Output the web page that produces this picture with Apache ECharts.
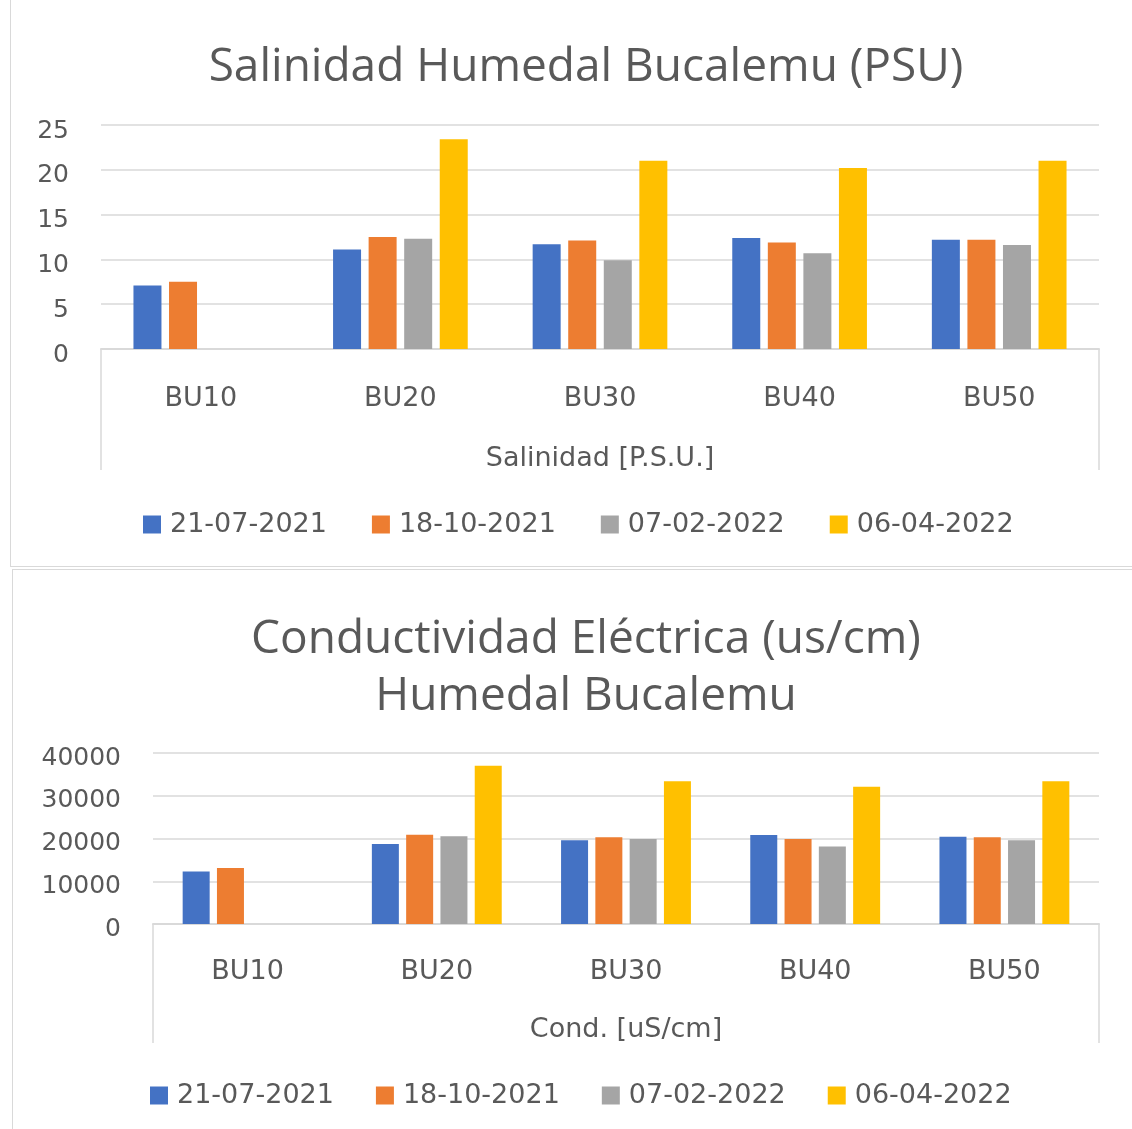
<!DOCTYPE html>
<html>
<head>
<meta charset="utf-8">
<script src="https://cdn.jsdelivr.net/npm/echarts@6/dist/echarts.min.js"></script>
<style>
    body { margin: 0; background: #ffffff; overflow: hidden; }
    .caja { position: absolute; border: 1.5px solid #d9d9d9; }
    .grafico { position: absolute; left: 0; width: 1132px; }
</style>
</head>
<body>
<div class="caja" style="left:10px; top:-3px; width:1140px; height:568px;"></div>
<div class="caja" style="left:12px; top:569px; width:1140px; height:600px;"></div>
<div id="salinidad" class="grafico" style="top:0; height:567px;"></div>
<div id="conductividad" class="grafico" style="top:567px; height:562px;"></div>
<script>
var sitios = ['BU10', 'BU20', 'BU30', 'BU40', 'BU50'];
var fechas = ['21-07-2021', '18-10-2021', '07-02-2022', '06-04-2022'];
var colores = ['#4472C4', '#ED7D31', '#A5A5A5', '#FFC000'];

// Salinidad [P.S.U.]
var sal_21072021 = [7.1, 11.1, 11.7, 12.4, 12.2];
var sal_18102021 = [7.5, 12.5, 12.1, 11.9, 12.2];
var sal_07022022 = [null, 12.3, 9.9, 10.7, 11.6];
var sal_06042022 = [null, 23.4, 21.0, 20.2, 21.0];

// Cond. [uS/cm]
var cond_21072021 = [12300, 18700, 19600, 20800, 20400];
var cond_18102021 = [13100, 20900, 20300, 19900, 20300];
var cond_07022022 = [null, 20500, 19900, 18100, 19600];
var cond_06042022 = [null, 37000, 33400, 32100, 33400];

var fuenteTitulo = '"Open Sans", "Noto Sans", sans-serif';
var fuente = '"DejaVu Sans", sans-serif';
var gris = '#595959';

function armarSeries(listas, ancho) {
    var series = [];
    for (var i = 0; i < listas.length; i++) {
        series.push({
            name: fechas[i],
            type: 'bar',
            data: listas[i],
            barWidth: ancho,
            barGap: '27%'
        });
    }
    return series;
}

// lineas verticales en los extremos del eje de categorias
function lineasExtremos(izq, der, y0, largo) {
    var estilo = { stroke: '#d9d9d9', lineWidth: 1.5 };
    return [
        { type: 'line', shape: { x1: izq, y1: y0, x2: izq, y2: y0 + largo }, style: estilo, silent: true },
        { type: 'line', shape: { x1: der, y1: y0, x2: der, y2: y0 + largo }, style: estilo, silent: true }
    ];
}

function armarOpciones(cfg) {
    return {
        color: colores,
        animation: false,
        textStyle: { fontFamily: fuente },
        title: {
            text: cfg.titulo,
            left: 581,
            top: cfg.tituloTop,
            textAlign: 'center',
            textStyle: {
                fontFamily: fuenteTitulo,
                fontSize: 46,
                fontWeight: 'normal',
                color: gris,
                lineHeight: 57
            }
        },
        legend: {
            data: fechas,
            left: cfg.leyendaLeft,
            top: cfg.leyendaTop,
            itemWidth: 18,
            itemHeight: 18,
            itemGap: cfg.leyendaGap,
            icon: 'rect',
            textStyle: { fontFamily: fuente, fontSize: 27, color: gris, padding: [0, 0, 0, 4] }
        },
        grid: {
            left: cfg.gridLeft,
            right: 33,
            top: cfg.gridTop,
            height: cfg.gridHeight
        },
        xAxis: {
            type: 'category',
            data: sitios,
            name: cfg.nombreEje,
            nameLocation: 'middle',
            nameGap: cfg.nombreGap,
            nameTextStyle: { fontFamily: fuente, fontSize: 27, color: gris },
            axisLine: { lineStyle: { color: '#d9d9d9', width: 2 } },
            axisTick: { show: false },
            axisLabel: { fontFamily: fuente, fontSize: 27, color: gris, margin: cfg.margenCat }
        },
        yAxis: {
            type: 'value',
            min: 0,
            max: cfg.max,
            interval: cfg.paso,
            axisLine: { show: false },
            axisTick: { show: false },
            axisLabel: {
                fontFamily: fuente,
                fontSize: 25,
                color: gris,
                margin: 32,
                verticalAlign: 'top',
                lineHeight: cfg.bajaEtiqueta,
                formatter: function (v) { return String(v); }
            },
            splitLine: { lineStyle: { color: '#d9d9d9', width: 1.5 } }
        },
        graphic: lineasExtremos(cfg.gridLeft, 1132 - 33, cfg.gridTop + cfg.gridHeight, cfg.largoLinea),
        series: armarSeries(cfg.series, cfg.anchoBarra)
    };
}

var salChart = echarts.init(document.getElementById('salinidad'));
salChart.setOption(armarOpciones({
    titulo: 'Salinidad Humedal Bucalemu (PSU)',
    tituloTop: 34,
    leyendaLeft: 138,
    leyendaTop: 506,
    leyendaGap: 45,
    gridLeft: 101,
    gridTop: 125,
    gridHeight: 224,
    nombreEje: 'Salinidad [P.S.U.]',
    nombreGap: 96,
    margenCat: 36,
    bajaEtiqueta: 12,
    max: 25,
    paso: 5,
    largoLinea: 121,
    anchoBarra: 28,
    series: [sal_21072021, sal_18102021, sal_07022022, sal_06042022]
}));

var condChart = echarts.init(document.getElementById('conductividad'));
condChart.setOption(armarOpciones({
    titulo: 'Conductividad Eléctrica (us/cm)\nHumedal Bucalemu',
    tituloTop: 39,
    leyendaLeft: 145,
    leyendaTop: 510,
    leyendaGap: 42,
    gridLeft: 153,
    gridTop: 186,
    gridHeight: 171,
    nombreEje: 'Cond. [uS/cm]',
    nombreGap: 92,
    margenCat: 34,
    bajaEtiqueta: 10,
    max: 40000,
    paso: 10000,
    largoLinea: 119,
    anchoBarra: 27,
    series: [cond_21072021, cond_18102021, cond_07022022, cond_06042022]
}));
</script>
</body>
</html>
